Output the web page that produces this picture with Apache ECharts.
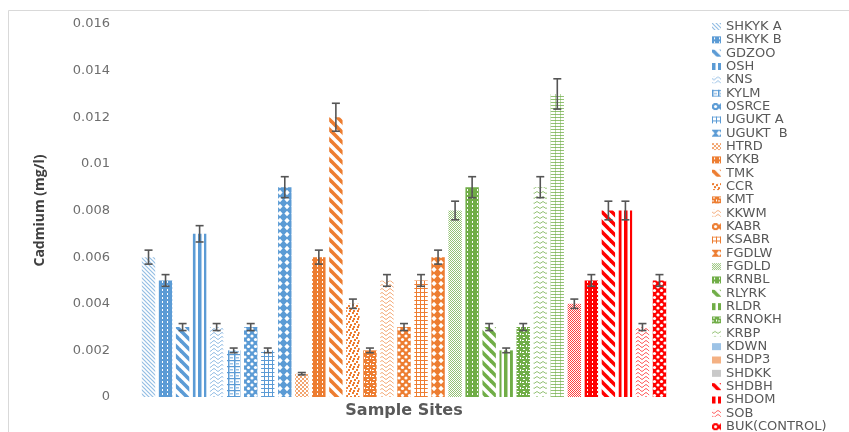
<!DOCTYPE html>
<html>
<head>
<meta charset="utf-8">
<script src="https://cdn.jsdelivr.net/npm/echarts@6/dist/echarts.min.js"></script>
<style>
  html, body { margin: 0; padding: 0; background: #ffffff; }
  #chart { width: 849px; height: 432px; }
</style>
</head>
<body>
<div id="chart"></div>
<script>
// Sampling sites and their mean cadmium concentration (mg/l)
const sites = ['SHKYK A', 'SHKYK B', 'GDZOO', 'OSH', 'KNS', 'KYLM', 'OSRCE', 'UGUKT A', 'UGUKT  B',
  'HTRD', 'KYKB', 'TMK', 'CCR', 'KMT', 'KKWM', 'KABR', 'KSABR', 'FGDLW',
  'FGDLD', 'KRNBL', 'RLYRK', 'RLDR', 'KRNOKH', 'KRBP', 'KDWN',
  'SHDP3', 'SHDKK', 'SHDBH', 'SHDOM', 'SOB', 'BUK(CONTROL)'];
const cadmium = [0.006, 0.005, 0.003, 0.007, 0.003, 0.002, 0.003, 0.002, 0.009,
  0.001, 0.006, 0.012, 0.004, 0.002, 0.005, 0.003, 0.005, 0.006,
  0.008, 0.009, 0.003, 0.002, 0.003, 0.009, 0.013,
  0.004, 0.005, 0.008, 0.008, 0.003, 0.005];
// Error bar half-widths (mg/l)
const errorMargin = [0.0003, 0.00025, 0.00015, 0.00035, 0.00015, 0.0001, 0.00015, 0.0001, 0.00045,
  0.00005, 0.0003, 0.0006, 0.0002, 0.0001, 0.00025, 0.00015, 0.00025, 0.0003,
  0.0004, 0.00045, 0.00015, 0.0001, 0.00015, 0.00045, 0.00065,
  0.0002, 0.00025, 0.0004, 0.0004, 0.00015, 0.00025];
const yTickLabels = ['0', '0.002', '0.004', '0.006', '0.008', '0.01', '0.012', '0.014', '0.016'];

// Fill styles: hatch pattern + colour for each site
const BLUE = '#5B9BD5', ORANGE = '#ED7D31', GREEN = '#70AD47', RED = '#FF0000';
const fills = [
  ['fineDiag', BLUE], ['dotted', BLUE], ['wideDiag', BLUE], ['vStripe', BLUE], ['wave', BLUE],
  ['plaid', BLUE], ['spheres', BLUE], ['grid', BLUE], ['diamonds', BLUE],
  ['smChecks', ORANGE], ['dotted', ORANGE], ['wideDiag', ORANGE], ['confetti', ORANGE], ['weave', ORANGE],
  ['wave', ORANGE], ['spheres', ORANGE], ['grid', ORANGE], ['diamonds', ORANGE],
  ['dense', GREEN], ['dotted', GREEN], ['wideDiag', GREEN], ['vStripe', GREEN], ['weave', GREEN],
  ['zigzag', GREEN], ['hlines', GREEN],
  ['dense', RED], ['dotted', RED], ['wideDiag', RED], ['vStripe', RED], ['wave', RED], ['spheres', RED]
];
// Legend swatches that use a plain colour
const legendSolid = { 'KDWN': '#9DC3E6', 'SHDP3': '#F4B183', 'SHDKK': '#C9C9C9' };

const PATTERNS = {
  fineDiag: [4, 4, (g, c) => {
    g.strokeStyle = c; g.globalAlpha = 0.65; g.lineWidth = 1.2;
    for (let k = -4; k <= 4; k += 4) { g.beginPath(); g.moveTo(k - 1, -1); g.lineTo(k + 5, 5); g.stroke(); }
  }],
  dotted: [5, 4, (g, c) => {
    g.fillStyle = c; g.fillRect(0, 0, 5, 4);
    g.fillStyle = '#ffffff'; g.fillRect(2, 1, 1, 2);
  }],
  wideDiag: [10, 10, (g, c) => {
    g.strokeStyle = c; g.lineWidth = 3.6;
    for (let k = -10; k <= 10; k += 10) { g.beginPath(); g.moveTo(k - 3, -3); g.lineTo(k + 13, 13); g.stroke(); }
  }],
  vStripe: [6, 2, (g, c) => {
    g.fillStyle = c; g.fillRect(0, 0, 3.5, 2);
  }],
  wave: [8, 4, (g, c) => {
    g.strokeStyle = c; g.globalAlpha = 0.75; g.lineWidth = 1;
    g.beginPath();
    for (let x = 0; x <= 8; x += 0.5) {
      const y = 2 + 1.3 * Math.sin(x / 8 * Math.PI * 2);
      x === 0 ? g.moveTo(x, y) : g.lineTo(x, y);
    }
    g.stroke();
  }],
  plaid: [6, 6, (g, c) => {
    g.fillStyle = c;
    g.fillRect(0, 0, 1.5, 6); g.fillRect(0, 0, 6, 1.2);
    g.globalAlpha = 0.6; g.fillRect(2, 3, 3, 1.5);
  }],
  spheres: [7, 7, (g, c) => {
    g.fillStyle = c; g.fillRect(0, 0, 7, 7);
    g.fillStyle = '#ffffff';
    [[0, 0], [7, 0], [0, 7], [7, 7], [3.5, 3.5]].forEach(([x, y]) => {
      g.beginPath(); g.arc(x, y, 1.6, 0, Math.PI * 2); g.fill();
    });
  }],
  grid: [4, 4, (g, c) => {
    g.fillStyle = c; g.fillRect(0, 0, 4, 1); g.fillRect(0, 0, 1, 4);
  }],
  diamonds: [7, 7, (g, c) => {
    g.fillStyle = c; g.fillRect(0, 0, 7, 7);
    g.fillStyle = '#ffffff';
    [0, 7].forEach(x => {
      g.beginPath(); g.moveTo(x, 0.8); g.lineTo(x + 2.6, 3.5); g.lineTo(x, 6.2); g.lineTo(x - 2.6, 3.5); g.closePath(); g.fill();
    });
  }],
  smChecks: [4, 4, (g, c) => {
    g.fillStyle = c; g.globalAlpha = 0.7; g.fillRect(0, 0, 2, 2); g.fillRect(2, 2, 2, 2);
  }],
  confetti: [8, 8, (g, c) => {
    g.fillStyle = c;
    [[0, 0], [4, 1], [2, 3], [6, 4], [1, 6], [5, 6]].forEach(([x, y]) => g.fillRect(x, y, 2, 2));
  }],
  weave: [6, 6, (g, c) => {
    g.fillStyle = c; g.fillRect(0, 0, 6, 6);
    g.fillStyle = '#ffffff'; g.fillRect(1, 1, 2, 1); g.fillRect(4, 3, 1, 2); g.fillRect(0, 4, 2, 1);
  }],
  dense: [2, 2, (g, c) => {
    g.fillStyle = c; g.globalAlpha = 0.75; g.fillRect(0, 0, 1, 1); g.fillRect(1, 1, 1, 1);
  }],
  zigzag: [6, 5, (g, c) => {
    g.strokeStyle = c; g.globalAlpha = 0.75; g.lineWidth = 1;
    g.beginPath(); g.moveTo(0, 3.5); g.lineTo(3, 1.5); g.lineTo(6, 3.5); g.stroke();
  }],
  hlines: [5, 3, (g, c) => {
    g.fillStyle = c; g.globalAlpha = 0.75; g.fillRect(0, 0, 5, 1);
    g.globalAlpha = 0.5; g.fillRect(0, 0, 1, 3);
  }]
};

function makePattern(kind, color) {
  const [w, h, draw] = PATTERNS[kind];
  const cv = document.createElement('canvas');
  cv.width = w; cv.height = h;
  draw(cv.getContext('2d'), color);
  return { image: cv, repeat: 'repeat' };
}

const chart = echarts.init(document.getElementById('chart'), null, { renderer: 'canvas' });

const barSeries = sites.map((name, i) => ({
  name: name,
  type: 'bar',
  barWidth: 13.4,
  barGap: '-100%',
  itemStyle: { color: makePattern(fills[i][0], fills[i][1]) },
  data: sites.map((_, j) => (j === i ? cadmium[i] : '-')),
  silent: true
}));

const errorSeries = {
  name: 'error',
  type: 'custom',
  z: 10,
  silent: true,
  encode: { x: 0, y: [1, 2] },
  data: sites.map((_, i) => [i, cadmium[i] - errorMargin[i], cadmium[i] + errorMargin[i]]),
  renderItem(params, api) {
    const lo = api.coord([api.value(0), api.value(1)]);
    const hi = api.coord([api.value(0), api.value(2)]);
    const cap = 4;
    const style = { stroke: '#555555', lineWidth: 1.6 };
    return {
      type: 'group',
      children: [
        { type: 'line', shape: { x1: lo[0], y1: lo[1], x2: hi[0], y2: hi[1] }, style },
        { type: 'line', shape: { x1: lo[0] - cap, y1: lo[1], x2: lo[0] + cap, y2: lo[1] }, style },
        { type: 'line', shape: { x1: hi[0] - cap, y1: hi[1], x2: hi[0] + cap, y2: hi[1] }, style }
      ]
    };
  }
};

chart.setOption({
  animation: false,
  backgroundColor: '#ffffff',
  graphic: [{
    type: 'rect',
    shape: { x: 8.5, y: 10.5, width: 900, height: 500 },
    style: { fill: 'none', stroke: '#d9d9d9', lineWidth: 1 },
    silent: true
  }],
  grid: { left: 140, right: 181, top: 24, bottom: 35 },
  legend: {
    orient: 'vertical',
    left: 712,
    top: 20,
    height: 440,
    padding: 0,
    itemWidth: 9,
    itemHeight: 7,
    itemGap: 0.34,
    icon: 'rect',
    selectedMode: false,
    textStyle: { fontFamily: 'DejaVu Sans', fontSize: 13, color: '#595959', lineHeight: 13 },
    data: sites.map(s => legendSolid[s]
      ? { name: s, itemStyle: { color: legendSolid[s] } }
      : { name: s })
  },
  xAxis: {
    type: 'category',
    data: sites,
    axisLine: { show: false },
    axisTick: { show: false },
    axisLabel: { show: false },
    name: 'Sample Sites',
    nameLocation: 'middle',
    nameGap: 6,
    nameTextStyle: { fontFamily: 'DejaVu Sans', fontWeight: 'bold', fontSize: 16, color: '#595959', verticalAlign: 'top' }
  },
  yAxis: {
    type: 'value',
    min: 0,
    max: 0.016,
    interval: 0.002,
    splitLine: { show: false },
    axisLine: { show: false },
    axisTick: { show: false },
    axisLabel: {
      margin: 30,
      fontFamily: 'DejaVu Sans',
      fontSize: 13,
      color: '#6e6e6e',
      formatter: v => yTickLabels[Math.round(v / 0.002)]
    },
    name: 'Cadmium (mg/l)',
    nameLocation: 'middle',
    nameGap: 93,
    nameTextStyle: { fontFamily: 'Open Sans', fontWeight: 'bold', fontSize: 14, color: '#404040' }
  },
  series: barSeries.concat([errorSeries])
});
</script>
</body>
</html>
